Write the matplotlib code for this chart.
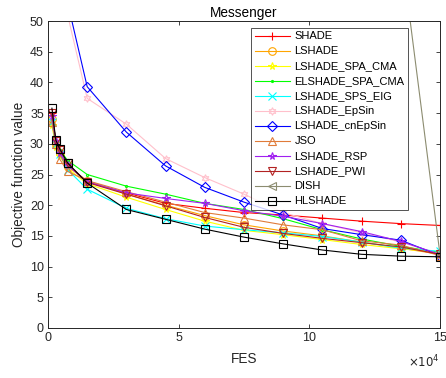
import matplotlib
matplotlib.use("Agg")
import matplotlib.pyplot as plt

plt.rcParams['font.family'] = ['Liberation Sans', 'DejaVu Sans']

# function evaluations where each algorithm was sampled
fes = [1500, 3000, 4500, 7500, 15000, 30000, 45000, 60000, 75000,
       90000, 105000, 120000, 135000, 150000]

shade = [35.0, 30.3, 28.8, 26.5, 23.8, 22.0, 20.3, 19.5, 18.8, 18.4, 17.9, 17.4, 17.0, 16.7]
lshade = [34.0, 30.0, 28.5, 26.3, 24.0, 21.8, 20.0, 18.3, 16.8, 15.8, 15.0, 14.0, 13.0, 12.0]
lshade_spa_cma = [33.0, 29.5, 28.0, 26.0, 23.5, 21.3, 19.3, 17.4, 15.9, 15.2, 14.4, 13.6, 12.9, 12.3]
elshade_spa_cma = [34.0, 30.5, 29.0, 27.3, 25.0, 23.1, 21.8, 20.3, 19.3, 17.8, 16.0, 14.5, 13.3, 12.3]
lshade_sps_eig = [33.5, 30.0, 28.3, 25.8, 22.6, 19.5, 17.8, 16.6, 16.0, 15.5, 14.9, 14.0, 13.0, 12.5]
lshade_epsin = [200.0, 120.0, 80.0, 51.0, 37.4, 33.2, 27.6, 24.5, 21.8, 18.8, 17.0, 15.5, 14.0, 12.0]
lshade_cnepsin = [220.0, 140.0, 90.0, 53.0, 39.3, 31.9, 26.4, 22.9, 20.5, 18.4, 16.2, 15.2, 14.3, 11.8]
jso = [33.5, 30.0, 27.5, 25.5, 24.0, 22.2, 20.5, 18.8, 17.9, 16.8, 16.0, 14.2, 13.5, 11.8]
lshade_rsp = [34.5, 30.5, 28.5, 26.5, 23.8, 22.0, 21.1, 20.3, 19.1, 18.2, 17.0, 15.7, 14.1, 12.0]
lshade_pwi = [35.0, 30.5, 29.0, 26.8, 23.7, 21.8, 19.9, 18.0, 16.4, 15.4, 14.6, 13.9, 13.2, 12.0]
dish = [400.0, 350.0, 320.0, 280.0, 240.0, 200.0, 170.0, 140.0, 120.0, 100.0, 85.0, 75.0, 62.0, 12.0]
hlshade = [35.8, 30.6, 29.2, 26.9, 23.6, 19.3, 17.7, 16.1, 14.8, 13.7, 12.7, 12.0, 11.7, 11.6]

names = ['SHADE', 'LSHADE', 'LSHADE_SPA_CMA', 'ELSHADE_SPA_CMA', 'LSHADE_SPS_EIG',
         'LSHADE_EpSin', 'LSHADE_cnEpSin', 'JSO', 'LSHADE_RSP', 'LSHADE_PWI',
         'DISH', 'HLSHADE']
series = [shade, lshade, lshade_spa_cma, elshade_spa_cma, lshade_sps_eig,
          lshade_epsin, lshade_cnepsin, jso, lshade_rsp, lshade_pwi, dish, hlshade]
colors = ['#ff0000', '#ffa500', '#ffff00', '#00ff00', '#00ffff', '#ffc0cb',
          '#0000ff', '#e07b39', '#a020f0', '#b22222', '#8c8c70', '#000000']
markers = ['+', 'o', '*', '.', 'x', (6, 1, 0), 'D', '^', '*', 'v', '<', 's']

fig = plt.figure(figsize=(4.46, 3.78), dpi=100)
ax = fig.add_axes([0.1076, 0.1323, 0.8789, 0.8121])

for name, vals, c, m in zip(names, series, colors, markers):
    ms = 5.5
    if m == 'D':
        ms = 5
    if m == '.':
        ms = 3
    ax.plot(fes, vals, color=c, marker=m, markersize=ms, markerfacecolor='none',
            markeredgecolor=c, markeredgewidth=0.8, linewidth=0.8, label=name)

ax.set_xlim(0, 150000)
ax.set_ylim(0, 50)
ax.set_xticks([0, 50000, 100000, 150000])
ax.set_xticklabels(['0', '5', '10', '15'])
ax.set_yticks(range(0, 51, 5))
ax.tick_params(direction='in', top=True, right=True, length=3, width=0.6,
               labelsize=9, colors='#262626', labelcolor='#262626', pad=3)
for s in ax.spines.values():
    s.set_linewidth(0.7)
    s.set_color('#262626')

ax.set_xlabel('FES', fontsize=9.8, color='#262626', labelpad=6)
ax.set_ylabel('Objective function value', fontsize=9.8, color='#262626', labelpad=3)
ax.set_title('Messenger', fontsize=9.8, color='#000000', pad=3)
ax.text(1.0, -0.11, r'$\times10^4$', transform=ax.transAxes, fontsize=8.5,
        color='#262626', ha='right', va='center')

leg = ax.legend(loc='upper right', bbox_to_anchor=(0.918, 0.977), fontsize=8,
                frameon=True, fancybox=False, edgecolor='#262626',
                handlelength=3.2, borderpad=0.3, labelspacing=0.45,
                handletextpad=0.4, borderaxespad=0)
leg.get_frame().set_linewidth(0.7)

fig.savefig('out.png', dpi=100)
